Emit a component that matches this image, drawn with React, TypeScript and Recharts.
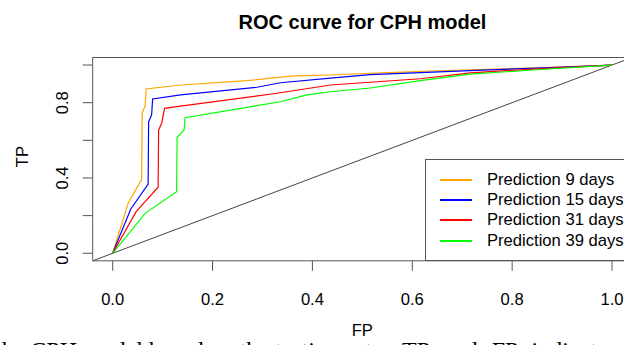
import React from 'react';
import { LineChart, Line, XAxis, YAxis, ReferenceArea, ReferenceLine, Legend } from 'recharts';

const seriesNames = ['Prediction 9 days', 'Prediction 15 days', 'Prediction 31 days', 'Prediction 39 days'];
const seriesColors = ['#FFA500', '#0000FF', '#FF0000', '#00FF00'];

const fp9 = [0, 0.031, 0.058, 0.059, 0.065, 0.067, 0.136, 0.269, 0.363, 0.436, 0.55, 0.716, 0.85, 1];
const tp9 = [0, 0.266, 0.393, 0.744, 0.784, 0.873, 0.894, 0.917, 0.942, 0.947, 0.96, 0.975, 0.985, 1];

const fp15 = [0, 0.036, 0.071, 0.072, 0.078, 0.08, 0.136, 0.289, 0.336, 0.436, 0.516, 0.716, 0.85, 1];
const tp15 = [0, 0.234, 0.368, 0.699, 0.735, 0.82, 0.841, 0.882, 0.906, 0.93, 0.949, 0.97, 0.984, 1];

const fp31 = [0, 0.047, 0.091, 0.092, 0.098, 0.104, 0.136, 0.329, 0.436, 0.616, 0.716, 0.85, 1];
const tp31 = [0, 0.221, 0.351, 0.655, 0.691, 0.77, 0.782, 0.85, 0.894, 0.927, 0.958, 0.98, 1];

const fp39 = [0, 0.065, 0.128, 0.129, 0.143, 0.145, 0.336, 0.389, 0.436, 0.516, 0.616, 0.716, 0.85, 1];
const tp39 = [0, 0.212, 0.327, 0.616, 0.655, 0.72, 0.805, 0.841, 0.858, 0.878, 0.917, 0.952, 0.975, 1];

const xTicks = [0, 0.2, 0.4, 0.6, 0.8, 1];
const yTicks = [0, 0.2, 0.4, 0.6, 0.8, 1];
const yTickLabels = [0, 0.4, 0.8];
const domainLimits = [-0.04, 1.04];

const titleText = 'ROC curve for CPH model';
const xLabel = 'FP';
const yLabel = 'TP';
const captionA = 'the CPH model based on the testing set.';
const captionB = 'TP and FP indicate the';

const zip = (fp: number[], tp: number[]) => fp.map((f, i) => ({ fp: f, tp: tp[i] }));
const seriesData = [zip(fp9, tp9), zip(fp15, tp15), zip(fp31, tp31), zip(fp39, tp39)];

const SANS = '"Liberation Sans", Arial, Helvetica, sans-serif';
const SERIF = '"Liberation Serif", "Times New Roman", serif';
const FS = 16.6;

const YTick = (props: any) => {
  const { x, y, payload } = props;
  const v = payload.value;
  if (!yTickLabels.some((t) => Math.abs(t - v) < 1e-9)) return <g />;
  return (
    <text
      x={x}
      y={y}
      transform={`rotate(-90 ${x} ${y})`}
      textAnchor="middle"
      fontSize={FS}
      fontFamily={SANS}
      fill="#000"
    >
      {v.toFixed(1)}
    </text>
  );
};

const YLabel = (props: any) => {
  const vb = props.viewBox || {};
  const cy = vb.height ? vb.y + vb.height / 2 - 2.5 : 156.7;
  return (
    <text
      x={28}
      y={cy}
      transform={`rotate(-90 28 ${cy})`}
      textAnchor="middle"
      fontSize={FS}
      fontFamily={SANS}
      fill="#000"
    >
      {yLabel}
    </text>
  );
};

const renderLegend = (props: any) => {
  const payload = [...(props.payload || [])].sort(
    (a: any, b: any) => seriesNames.indexOf(a.value) - seriesNames.indexOf(b.value)
  );
  return (
    <div
      style={{
        border: '1px solid #555',
        background: '#fff',
        width: 230,
        height: 102,
        boxSizing: 'border-box',
        paddingTop: 10,
        paddingLeft: 14,
        fontFamily: SANS,
        fontSize: FS,
        color: '#000',
      }}
    >
      {payload.map((entry: any) => (
        <div key={entry.value} style={{ display: 'flex', alignItems: 'center', height: 20.2, whiteSpace: 'nowrap' }}>
          <span style={{ display: 'inline-block', width: 32, height: 2, background: entry.color, marginRight: 15 }} />
          <span>{entry.value}</span>
        </div>
      ))}
    </div>
  );
};

export default function App() {
  return (
    <div
      style={{
        position: 'absolute',
        left: 0,
        top: 0,
        width: 624,
        height: 345,
        overflow: 'hidden',
        background: '#fff',
      }}
    >
      <div
        style={{
          position: 'absolute',
          left: 0,
          width: 725,
          top: 11.6,
          textAlign: 'center',
          fontFamily: SANS,
          fontWeight: 'bold',
          fontSize: 20,
          lineHeight: '20px',
          color: '#000',
          whiteSpace: 'nowrap',
        }}
      >
        {titleText}
      </div>
      <LineChart width={640} height={345} margin={{ top: 57.5, right: 8, bottom: 0, left: 0 }}>
        <XAxis
          dataKey="fp"
          type="number"
          domain={domainLimits}
          ticks={xTicks}
          interval={0}
          allowDataOverflow
          axisLine={false}
          tickLine={{ stroke: '#555' }}
          tickSize={10}
          tickMargin={22}
          height={84.2}
          tick={{ fontSize: FS, fontFamily: SANS, fill: '#000' }}
          tickFormatter={(v: number) => v.toFixed(1)}
          label={{ value: xLabel, position: 'insideBottom', offset: 9, fontSize: FS, fontFamily: SANS, fill: '#000' }}
        />
        <YAxis
          dataKey="tp"
          type="number"
          domain={domainLimits}
          ticks={yTicks}
          interval={0}
          allowDataOverflow
          axisLine={false}
          tickLine={{ stroke: '#555' }}
          tickSize={10}
          tickMargin={14.2}
          width={92.7}
          tick={<YTick />}
          label={<YLabel />}
        />
        <ReferenceArea
          x1={domainLimits[0]}
          x2={domainLimits[1]}
          y1={domainLimits[0]}
          y2={domainLimits[1]}
          fill="none"
          fillOpacity={0}
          stroke="#555"
          strokeWidth={1}
          ifOverflow="visible"
        />
        <ReferenceLine
          segment={[
            { x: domainLimits[0], y: domainLimits[0] },
            { x: domainLimits[1], y: domainLimits[1] },
          ]}
          stroke="#444"
          strokeWidth={1}
          ifOverflow="visible"
        />
        {seriesData.map((d, i) => (
          <Line
            key={seriesNames[i]}
            data={d}
            dataKey="tp"
            name={seriesNames[i]}
            type="linear"
            stroke={seriesColors[i]}
            strokeWidth={1.2}
            dot={false}
            activeDot={false}
            isAnimationActive={false}
          />
        ))}
        <Legend
          layout="vertical"
          align="center"
          verticalAlign="middle"
          content={renderLegend}
          wrapperStyle={{ position: 'absolute', left: 425, top: 159, width: 230, height: 102 }}
        />
      </LineChart>
      <div
        style={{
          position: 'absolute',
          left: -5,
          top: 337.5,
          fontFamily: SERIF,
          fontSize: 24,
          lineHeight: '24px',
          color: '#000',
          whiteSpace: 'nowrap',
        }}
      >
        {captionA}
      </div>
      <div
        style={{
          position: 'absolute',
          left: 402,
          top: 337.5,
          fontFamily: SERIF,
          fontSize: 24,
          lineHeight: '24px',
          wordSpacing: 8,
          color: '#000',
          whiteSpace: 'nowrap',
        }}
      >
        {captionB}
      </div>
    </div>
  );
}
